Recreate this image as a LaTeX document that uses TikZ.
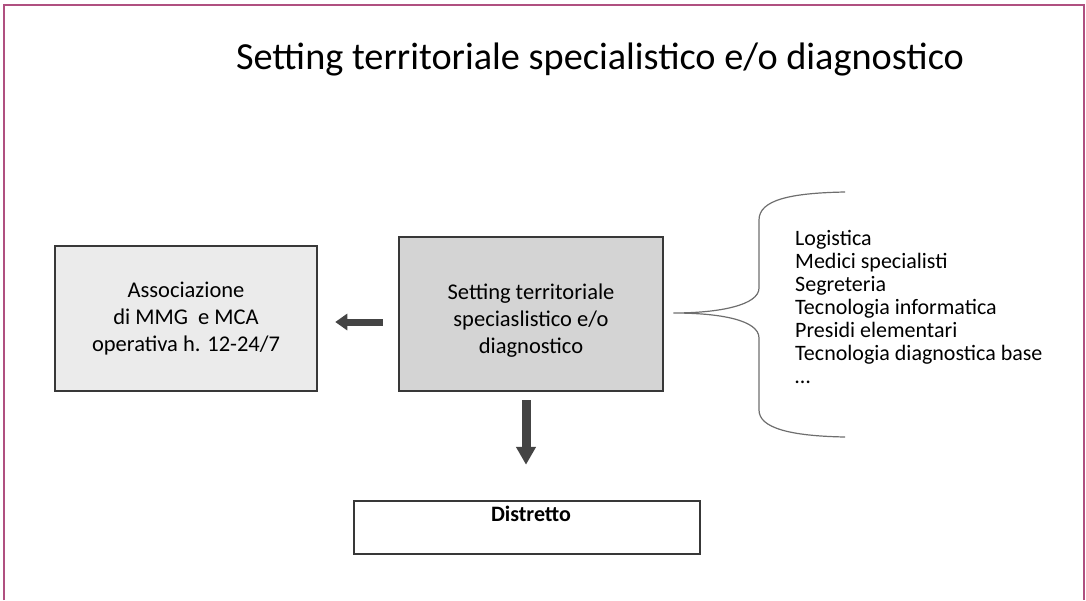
\documentclass[tikz,border=0pt]{standalone}
\usepackage{fontspec}
\setmainfont{Carlito}
\usetikzlibrary{arrows.meta,calc}
\definecolor{framec}{RGB}{176,80,128}
\definecolor{boxline}{RGB}{56,56,56}
\definecolor{lightbox}{RGB}{235,235,235}
\definecolor{midbox}{RGB}{212,212,212}
\definecolor{arrowc}{RGB}{68,68,68}
\definecolor{bracec}{RGB}{110,110,110}
\begin{document}
\begin{tikzpicture}[x=1pt,y=-1pt,
  box/.style={draw=boxline,line width=2.5pt,inner sep=0pt,align=center,
    font=\fontsize{22.5}{27}\selectfont},
  boxtext/.style={inner sep=0pt,align=center,font=\fontsize{22.5}{27}\selectfont},
  fatarrow/.style={draw=arrowc,line width=#1}]
\useasboundingbox (0,0) rectangle (1086,600);
\draw[framec,line width=2pt] (4,600) -- (4,5) -- (1084,5) -- (1084,600);

\node[font=\fontsize{38.3}{44}\selectfont,anchor=base] (title) at (600,69)
  {Setting territoriale specialistico e/o diagnostico};

\node[box,fill=lightbox,minimum width=262pt,minimum height=145pt] (l) at (186,318.5)
  {Associazione\\ di MMG\ \ e MCA\\operativa h. 12-24/7};
\node[box,fill=midbox,minimum width=264pt,minimum height=154pt] (c) at (531,314) {};
\node[boxtext] (ct) at ($(c.center)+(0,7)$)
  {Setting territoriale\\speciaslistico e/o\\diagnostico};
\node[box,fill=white,minimum width=346pt,minimum height=53pt] (d) at (527,527.5) {};
\node[font=\bfseries\fontsize{22}{26}\selectfont,anchor=base] (dl) at ($(d.north)+(4,22)$) {Distretto};

\draw[fatarrow=7pt,-{Triangle[width=16pt,length=12pt]}]
  ($(c.west)+(-15,8)$) -- ($(l.east)+(17,3.5)$);
\draw[fatarrow=9pt,-{Triangle[width=19pt,length=18pt]}]
  ($(c.south)+(-5,8)$) -- ($(d.north)+(-1,-35)$);

\coordinate (tip) at ($(c.east)+(9,-1)$);
\draw[bracec,line width=1.2pt] (845,192) .. controls (790,193) and (759,200) .. (759,220)
  -- (759,288) .. controls (759,305) and (720,313) .. (tip)
  .. controls (720,313) and (759,320) .. (759,338)
  -- (759,410) .. controls (759,428) and (790,436) .. (845,437);

\node[anchor=north west,align=left,inner sep=0pt,font=\fontsize{22}{23}\selectfont] (list) at (795,230)
  {Logistica\\Medici specialisti\\Segreteria\\Tecnologia informatica\\Presidi elementari\\Tecnologia diagnostica base\\…};
\end{tikzpicture}
\end{document}
